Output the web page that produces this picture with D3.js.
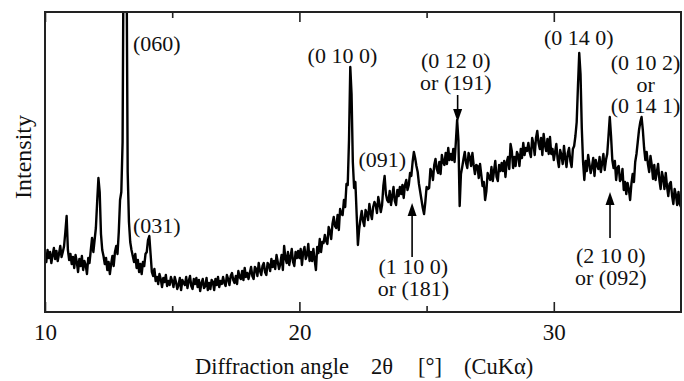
<!DOCTYPE html>
<html>
<head>
<meta charset="utf-8">
<script src="https://cdn.jsdelivr.net/npm/d3@7"></script>
<style>
  body { margin: 0; background: #fff; }
  text { font-family: "Liberation Serif", "Times New Roman", serif; fill: #111; }
</style>
</head>
<body>
<div id="chart"></div>
<script>
// scan: 2theta from 10 to 35 deg, step 0.05 deg
const scanStart = 10;
const scanStep = 0.05;
// intensity (a.u.), one row per degree
const intensity = [
  58, 50, 62, 54, 60, 49, 57, 64, 53, 61, 51, 58, 66, 55, 60, 66, 80, 96, 62, 52,
  58, 48, 55, 44, 57, 50, 40, 53, 46, 56, 42, 51, 47, 38, 54, 49, 62, 74, 60, 72,
  84, 110, 134, 120, 78, 62, 56, 48, 54, 42, 50, 38, 48, 56, 46, 60, 66, 58, 80, 112,
  120, 170, 420, 700, 380, 140, 90, 70, 62, 56, 50, 58, 44, 52, 40, 48, 38, 50, 46, 58,
  60, 72, 76, 58, 40, 36, 43, 31, 35, 28, 38, 33, 25, 34, 30, 37, 26, 31, 27, 35,
  31, 25, 35, 30, 23, 27, 34, 22, 32, 29, 27, 35, 24, 31, 36, 26, 23, 33, 28, 34,
  25, 32, 21, 29, 33, 24, 26, 34, 22, 29, 23, 32, 30, 22, 33, 27, 35, 25, 31, 28,
  35, 29, 26, 37, 33, 27, 36, 39, 32, 29, 36, 28, 41, 35, 33, 41, 32, 44, 35, 39,
  33, 39, 45, 36, 33, 45, 43, 36, 49, 41, 37, 46, 49, 40, 37, 49, 47, 41, 53, 45,
  51, 43, 57, 50, 43, 48, 57, 42, 66, 54, 49, 60, 47, 55, 63, 50, 46, 60, 54, 61,
  54, 63, 47, 60, 65, 53, 57, 68, 51, 60, 51, 63, 52, 42, 65, 59, 73, 60, 70, 69,
  77, 71, 68, 85, 81, 73, 88, 95, 86, 84, 97, 82, 103, 98, 97, 112, 105, 128, 127, 172,
  245, 218, 150, 124, 130, 98, 67, 83, 93, 101, 91, 86, 102, 99, 92, 108, 99, 93, 105, 110,
  107, 99, 115, 108, 100, 107, 126, 136, 118, 112, 110, 121, 107, 116, 125, 111, 107, 122, 116, 125,
  118, 127, 114, 127, 132, 122, 127, 139, 136, 150, 160, 154, 146, 140, 128, 120, 112, 104, 98, 110,
  125, 123, 124, 143, 140, 132, 147, 153, 143, 139, 150, 138, 157, 150, 147, 159, 148, 164, 152, 158,
  152, 163, 150, 170, 192, 172, 106, 138, 145, 153, 160, 149, 144, 159, 155, 146, 159, 147, 138, 147,
  146, 134, 148, 137, 126, 130, 112, 121, 139, 135, 132, 145, 131, 141, 151, 135, 131, 147, 141, 149,
  141, 151, 135, 150, 155, 143, 168, 161, 144, 155, 146, 160, 157, 146, 163, 154, 169, 157, 164, 161,
  169, 160, 155, 174, 168, 157, 174, 181, 169, 163, 174, 157, 178, 167, 161, 173, 158, 175, 158, 163,
  152, 160, 168, 153, 145, 162, 157, 148, 166, 154, 145, 159, 164, 151, 145, 163, 166, 176, 190, 226,
  259, 238, 184, 150, 132, 151, 141, 157, 148, 139, 145, 154, 136, 152, 147, 143, 155, 140, 149, 158,
  142, 152, 158, 176, 195, 176, 152, 144, 151, 132, 144, 146, 131, 133, 143, 122, 130, 118, 129, 123,
  112, 128, 138, 130, 150, 158, 170, 182, 190, 195, 182, 164, 152, 160, 148, 140, 156, 147, 133, 147,
  132, 140, 148, 132, 123, 140, 134, 123, 139, 126, 116, 128, 130, 116, 108, 123, 117, 107, 120, 108,
  105
];

const majorTicks = [10, 20, 30];
const minorTicks = [15, 25];

// peak labels: lines of text, anchor x (deg), first baseline (a.u.)
const peakLabels = [
  { lines: ["(060)"], x: 13.46, y: 261, anchor: "start" },
  { lines: ["(031)"], x: 13.46, y: 79, anchor: "start" },
  { lines: ["(0 10 0)"], x: 21.69, y: 249, anchor: "middle" },
  { lines: ["(091)"], x: 23.26, y: 145, anchor: "middle" },
  { lines: ["(0 12 0)", "or (191)"], x: 26.15, y: 244, anchor: "middle" },
  { lines: ["(0 14 0)"], x: 30.98, y: 267, anchor: "middle" },
  { lines: ["(0 10 2)", "or", "(0 14 1)"], x: 33.61, y: 242, anchor: "middle" },
  { lines: ["(1 10 0)", "or (181)"], x: 24.48, y: 38, anchor: "middle" },
  { lines: ["(2 10 0)", "or (092)"], x: 32.24, y: 49, anchor: "middle" }
];

// arrows: x (deg), tail and tip (a.u.)
const arrows = [
  { x: 26.22, from: 217, to: 190 },
  { x: 24.43, from: 55, to: 109 },
  { x: 32.21, from: 74, to: 120 }
];

const W = 684, H = 381;
const m = { left: 45, right: 681, top: 12, bottom: 312 };

const data = intensity.map((v, i) => ({ tt: scanStart + i * scanStep, v: v }));

const svg = d3.select("#chart").append("svg")
  .attr("width", W)
  .attr("height", H);

const x = d3.scaleLinear().domain([10, 35]).range([m.left, m.right]);
const y = d3.scaleLinear().domain([0, 300]).range([m.bottom, m.top]);

svg.append("clipPath").attr("id", "clip")
  .append("rect")
  .attr("x", m.left).attr("y", m.top)
  .attr("width", m.right - m.left).attr("height", m.bottom - m.top);

// trace
const line = d3.line().x(d => x(d.tt)).y(d => y(d.v));
svg.append("path")
  .datum(data)
  .attr("clip-path", "url(#clip)")
  .attr("fill", "none")
  .attr("stroke", "#000")
  .attr("stroke-width", 2.4)
  .attr("stroke-linejoin", "round")
  .attr("d", line);

// inward ticks top and bottom
function ticks(g, axis) {
  g.call(axis);
  g.select(".domain").remove();
  g.selectAll("line").attr("stroke", "#222").attr("stroke-width", 1.6);
}
svg.append("g").attr("transform", `translate(0,${m.bottom})`)
  .call(g => ticks(g, d3.axisBottom(x).tickValues(majorTicks).tickSize(-10).tickFormat("")));
svg.append("g").attr("transform", `translate(0,${m.bottom})`)
  .call(g => ticks(g, d3.axisBottom(x).tickValues(minorTicks).tickSize(-6).tickFormat("")));
svg.append("g").attr("transform", `translate(0,${m.top})`)
  .call(g => ticks(g, d3.axisTop(x).tickValues(majorTicks).tickSize(-10).tickFormat("")));
svg.append("g").attr("transform", `translate(0,${m.top})`)
  .call(g => ticks(g, d3.axisTop(x).tickValues(minorTicks).tickSize(-6).tickFormat("")));

// tick labels
const lab = svg.append("g").attr("transform", `translate(0,${m.bottom})`)
  .call(d3.axisBottom(x).tickValues(majorTicks).tickSize(0).tickPadding(12).tickFormat(d3.format("d")));
lab.select(".domain").remove();
lab.selectAll("text")
  .attr("font-size", 23)
  .attr("fill", "#111");

// frame
svg.append("rect")
  .attr("x", m.left).attr("y", m.top)
  .attr("width", m.right - m.left).attr("height", m.bottom - m.top)
  .attr("fill", "none")
  .attr("stroke", "#222")
  .attr("stroke-width", 2);

// peak labels
peakLabels.forEach(p => {
  const t = svg.append("text")
    .attr("text-anchor", p.anchor)
    .attr("font-size", 22);
  p.lines.forEach((s, k) => {
    t.append("tspan")
      .attr("x", x(p.x))
      .attr("y", y(p.y) + k * 21.5)
      .text(s);
  });
});

// arrows
arrows.forEach(a => {
  const xa = x(a.x), y0 = y(a.from), y1 = y(a.to);
  const dir = y1 > y0 ? 1 : -1;
  svg.append("line")
    .attr("x1", xa).attr("x2", xa)
    .attr("y1", y0).attr("y2", y1 - dir * 10)
    .attr("stroke", "#000").attr("stroke-width", 1.6);
  svg.append("path")
    .attr("d", `M${xa},${y1} L${xa - 4.5},${y1 - dir * 13} L${xa + 4.5},${y1 - dir * 13} Z`)
    .attr("fill", "#000");
});

// axis titles
const title = svg.append("text")
  .attr("font-size", 22.5)
  .attr("y", 374);
title.append("tspan").attr("x", 195).text("Diffraction angle");
title.append("tspan").attr("x", 371).text("2θ");
title.append("tspan").attr("x", 418).text("[°]");
title.append("tspan").attr("x", 464).text("(CuKα)");

svg.append("text")
  .attr("transform", "translate(31,157) rotate(-90)")
  .attr("text-anchor", "middle")
  .attr("font-size", 24)
  .text("Intensity");
</script>
</body>
</html>
